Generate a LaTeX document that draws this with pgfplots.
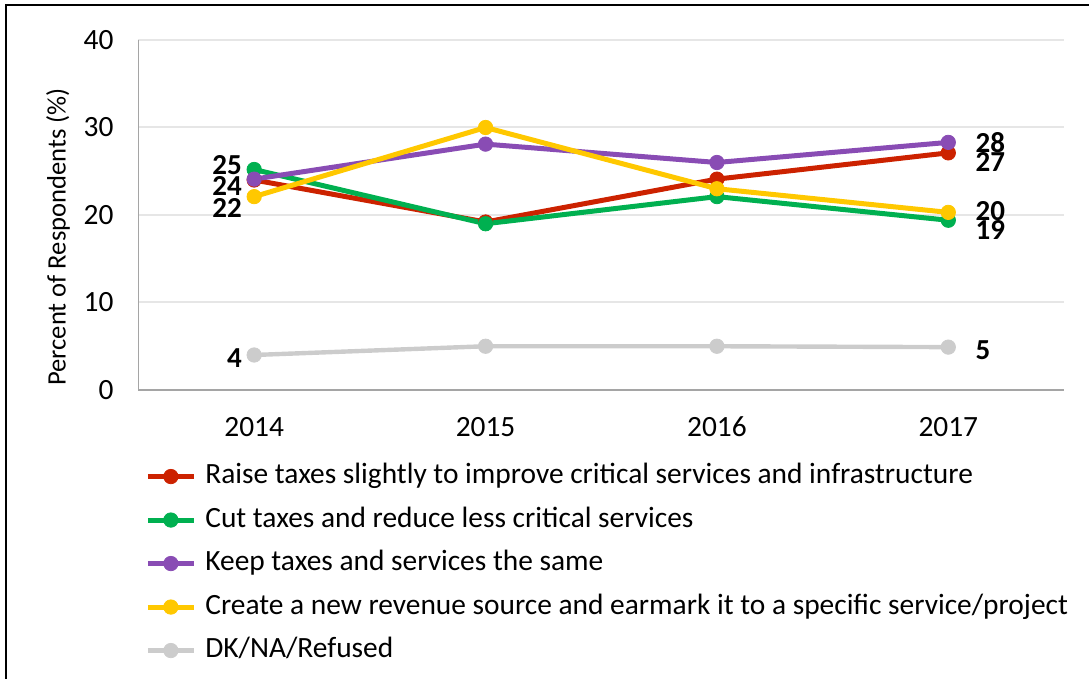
\documentclass[border=0pt]{standalone}
\usepackage{pgfplots}
\pgfplotsset{compat=1.18}
\usepackage{fontspec}
\setmainfont{Carlito}

\definecolor{cRed}{RGB}{204,34,0}
\definecolor{cGreen}{RGB}{0,176,80}
\definecolor{cPurple}{RGB}{137,76,180}
\definecolor{cYellow}{RGB}{255,200,0}
\definecolor{cGray}{RGB}{204,204,204}
\definecolor{gridgray}{RGB}{230,230,230}
\definecolor{axisgray}{RGB}{165,165,165}

\pgfplotsset{
  series/.style={color=#1, line width=2.5pt, mark=*, mark size=3.6pt,
    mark options={solid, fill=#1, line width=0.4pt}},
}

\newcommand{\lbl}[4]{% x, y, placement, text
  \node[font=\bfseries\fontsize{14.5}{16}\selectfont, inner sep=0pt, #3] at (axis cs:#1,#2) {#4};}

\begin{document}
\begin{tikzpicture}
\useasboundingbox (-69.25pt,-144.5pt) rectangle (475.25pt,195pt);
\draw[black, line width=1pt] (-66.25pt,-144.5pt) -- (-66.25pt,192.25pt) -- (475.25pt,192.25pt);
\begin{axis}[
  at={(0pt,0pt)}, anchor=south west,
  scale only axis, width=462.75pt, height=175pt,
  xmin=-0.5, xmax=3.5, ymin=0, ymax=40,
  xtick={0,1,2,3}, xticklabels={2014,2015,2016,2017},
  ytick={0,10,20,30,40},
  axis x line*=bottom, axis y line*=left,
  axis line style={draw=axisgray, line width=0.75pt, -},
  major tick length=0pt,
  ymajorgrids, grid style={draw=gridgray, line width=1pt},
  tick label style={font=\fontsize{14.7}{16}\selectfont},
  /pgf/number format/assume math mode=true,
  yticklabel style={xshift=-9pt},
  xticklabel style={yshift=-10pt},
  ylabel={Percent of Respondents (\%)},
  ylabel style={font=\fontsize{13.3}{16}\selectfont,
    at={(axis description cs:-0.087,0.437)}, anchor=center},
  legend cell align=left,
  legend style={at={(axis description cs:0.007,-0.209)}, anchor=north west,
    draw=none, fill=none, inner sep=0pt, row sep=8.75pt, column sep=4.5pt,
    font=\fontsize{14.7}{16}\selectfont,
    nodes={inner sep=0pt, text height=10pt, text depth=3pt}},
  legend image code/.code={
    \draw[mark repeat=2, mark phase=2, #1] plot coordinates {(0pt,0pt) (11.5pt,0pt) (23pt,0pt)};},
]
\addplot[series=cRed] coordinates {(0,24.0) (1,19.2) (2,24.1) (3,27.1)};
\addlegendentry{Raise taxes slightly to improve critical services and infrastructure}
\addplot[series=cGreen] coordinates {(0,25.2) (1,19.0) (2,22.1) (3,19.4)};
\addlegendentry{Cut taxes and reduce less critical services}
\addplot[series=cPurple] coordinates {(0,24.1) (1,28.1) (2,26.0) (3,28.3)};
\addlegendentry{Keep taxes and services the same}
\addplot[series=cYellow] coordinates {(0,22.1) (1,30.0) (2,23.0) (3,20.3)};
\addlegendentry{Create a new revenue source and earmark it to a specific service/project}
\addplot[series=cGray, line width=2.2pt] coordinates {(0,4.0) (1,5.0) (2,5.0) (3,4.9)};
\addlegendentry{DK/NA/Refused}

% value labels, 2014 on the left, 2017 on the right
\lbl{0}{25.2}{anchor=east, xshift=-6pt, yshift=2.25pt}{25}
\lbl{0}{24.0}{anchor=east, xshift=-6pt, yshift=-3pt}{24}
\lbl{0}{22.1}{anchor=east, xshift=-6pt, yshift=-5.6pt}{22}
\lbl{0}{4.0}{anchor=east, xshift=-6pt, yshift=-1.5pt}{4}
\lbl{3}{28.3}{anchor=west, xshift=13.5pt, yshift=0pt}{28}
\lbl{3}{27.1}{anchor=west, xshift=13.5pt, yshift=-4.5pt}{27}
\lbl{3}{20.3}{anchor=west, xshift=13.5pt, yshift=0.7pt}{20}
\lbl{3}{19.4}{anchor=west, xshift=13.5pt, yshift=-4.9pt}{19}
\lbl{3}{4.9}{anchor=west, xshift=13.5pt, yshift=-1.45pt}{5}
\end{axis}
\end{tikzpicture}
\end{document}
